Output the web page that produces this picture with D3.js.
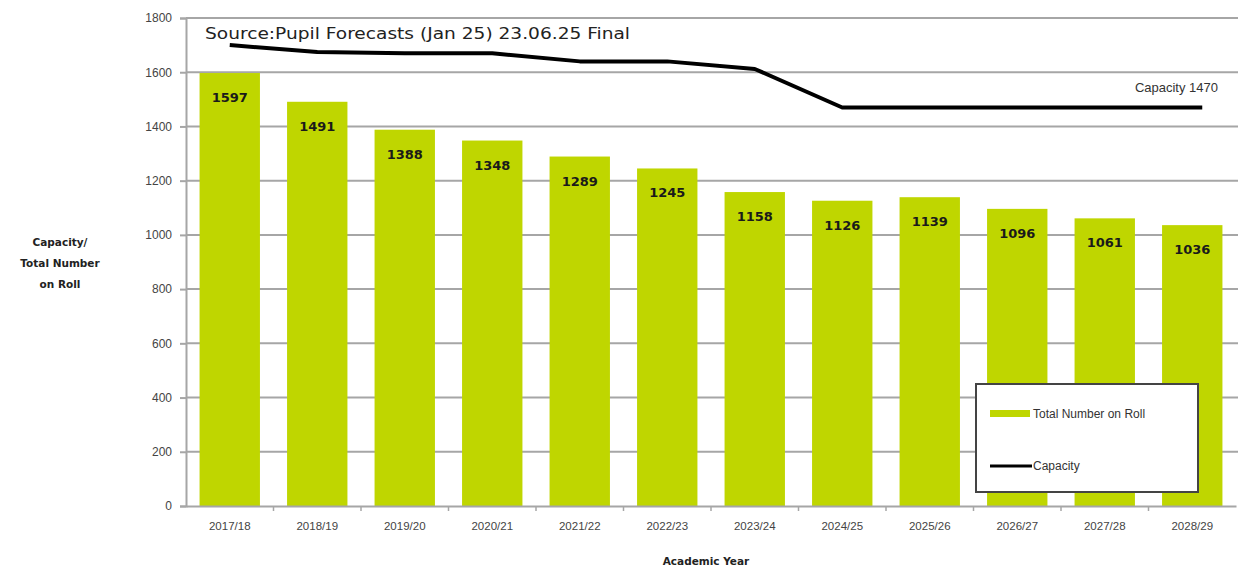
<!DOCTYPE html>
<html>
<head>
<meta charset="utf-8">
<script src="https://cdn.jsdelivr.net/npm/d3@7"></script>
<style>
  html, body { margin: 0; padding: 0; background: #ffffff; }
  svg { display: block; }
</style>
</head>
<body>
<svg id="chart" width="1240" height="568"></svg>
<script>
// Academic years shown on the x axis
const years = ["2017/18", "2018/19", "2019/20", "2020/21", "2021/22", "2022/23",
               "2023/24", "2024/25", "2025/26", "2026/27", "2027/28", "2028/29"];
// Total number on roll per year (bars)
const roll = [1597, 1491, 1388, 1348, 1289, 1245, 1158, 1126, 1139, 1096, 1061, 1036];
// School capacity per year (line)
const capacity = [1700, 1675, 1670, 1670, 1640, 1640, 1612, 1470, 1470, 1470, 1470, 1470];
// Y axis ticks
const yTicks = [0, 200, 400, 600, 800, 1000, 1200, 1400, 1600, 1800];

const svg = d3.select("#chart");
const margin = { left: 186, right: 4, top: 18, bottom: 62 };
const W = 1240, H = 568;

const x = d3.scaleBand().domain(years)
  .range([margin.left, W - margin.right]).paddingInner(0.31).paddingOuter(0.155);
const xb = d3.scaleBand().domain(years).range([margin.left, W - margin.right]);
const y = d3.scaleLinear().domain([0, 1800]).range([H - margin.bottom, margin.top]);

const gridColor = "#a6a6a6";

// Horizontal gridlines
svg.append("g").selectAll("line").data(yTicks.filter(d => d > 0)).join("line")
  .attr("x1", margin.left).attr("x2", W - 2)
  .attr("y1", d => y(d)).attr("y2", d => y(d))
  .attr("stroke", gridColor).attr("stroke-width", 2);

// Y axis
const yAxis = svg.append("g").attr("transform", `translate(${margin.left},0)`)
  .call(d3.axisLeft(y).tickValues(yTicks).tickFormat(d3.format("d")).tickSize(6).tickPadding(8));
yAxis.select(".domain").attr("stroke", gridColor).attr("stroke-width", 2);
yAxis.selectAll(".tick line").attr("stroke", gridColor).attr("stroke-width", 2);
yAxis.selectAll("text").attr("font-family", "Liberation Sans, Arial, sans-serif")
  .attr("font-size", 12).attr("fill", "#444");

// Bars
svg.append("g").selectAll("rect").data(roll).join("rect")
  .attr("x", (d, i) => x(years[i])).attr("width", x.bandwidth())
  .attr("y", d => y(d)).attr("height", d => y(0) - y(d))
  .attr("fill", "#bfd600");

// Bar value labels
svg.append("g").selectAll("text").data(roll).join("text")
  .attr("x", (d, i) => x(years[i]) + x.bandwidth() / 2)
  .attr("y", d => y(d) + 29)
  .attr("text-anchor", "middle")
  .attr("font-family", "DejaVu Sans, sans-serif").attr("font-weight", "bold")
  .attr("font-size", 13).attr("fill", "#1a1a1a")
  .text(d => d);

// X axis
const xAxis = svg.append("g").attr("transform", `translate(0,${y(0)})`)
  .call(d3.axisBottom(xb).tickSize(0).tickPadding(16));
xAxis.select(".domain").attr("stroke", gridColor).attr("stroke-width", 2);
xAxis.selectAll("text").attr("font-family", "Liberation Sans, Arial, sans-serif")
  .attr("font-size", 11.5).attr("fill", "#444");
// Tick marks on the category boundaries
svg.append("g").selectAll("line").data(years.slice(1)).join("line")
  .attr("x1", d => xb(d)).attr("x2", d => xb(d))
  .attr("y1", y(0)).attr("y2", y(0) + 5)
  .attr("stroke", gridColor).attr("stroke-width", 1.5);

// Capacity line
const line = d3.line()
  .x((d, i) => xb(years[i]) + xb.bandwidth() / 2 + (i === years.length - 1 ? 10 : 0))
  .y(d => y(d));
svg.append("path").datum(capacity)
  .attr("d", line).attr("fill", "none")
  .attr("stroke", "#000").attr("stroke-width", 4).attr("stroke-linejoin", "round");

// Source note
svg.append("text").attr("x", 205).attr("y", 39)
  .attr("font-family", "DejaVu Sans, sans-serif")
  .attr("font-size", 16.5).attr("fill", "#222")
  .attr("textLength", 425).attr("lengthAdjust", "spacingAndGlyphs")
  .text("Source:Pupil Forecasts (Jan 25) 23.06.25 Final");

// Capacity annotation
svg.append("text").attr("x", 1218).attr("y", y(capacity[capacity.length - 1]) - 15)
  .attr("text-anchor", "end")
  .attr("font-family", "Liberation Sans, Arial, sans-serif")
  .attr("font-size", 13).attr("fill", "#333")
  .text("Capacity " + capacity[capacity.length - 1]);

// Axis titles
const yTitle = svg.append("text").attr("text-anchor", "middle")
  .attr("font-family", "DejaVu Sans, sans-serif").attr("font-weight", "bold")
  .attr("font-size", 10.5).attr("fill", "#222");
["Capacity/", "Total Number", "on Roll"].forEach((t, i) => {
  yTitle.append("tspan").attr("x", 60).attr("y", 246 + i * 21).text(t);
});
svg.append("text").attr("x", 706).attr("y", 565).attr("text-anchor", "middle")
  .attr("font-family", "DejaVu Sans, sans-serif").attr("font-weight", "bold")
  .attr("font-size", 10.5).attr("fill", "#222")
  .text("Academic Year");

// Legend
const lg = svg.append("g").attr("transform", "translate(976,384)");
lg.append("rect").attr("width", 222).attr("height", 108)
  .attr("fill", "#fff").attr("stroke", "#444").attr("stroke-width", 2);
lg.append("rect").attr("x", 14).attr("y", 26).attr("width", 40).attr("height", 7)
  .attr("fill", "#bfd600");
lg.append("text").attr("x", 57).attr("y", 34)
  .attr("font-family", "Liberation Sans, Arial, sans-serif").attr("font-size", 12)
  .attr("fill", "#333").text("Total Number on Roll");
lg.append("line").attr("x1", 14).attr("x2", 56).attr("y1", 82).attr("y2", 82)
  .attr("stroke", "#000").attr("stroke-width", 3);
lg.append("text").attr("x", 57).attr("y", 86)
  .attr("font-family", "Liberation Sans, Arial, sans-serif").attr("font-size", 12)
  .attr("fill", "#333").text("Capacity");
</script>
</body>
</html>
